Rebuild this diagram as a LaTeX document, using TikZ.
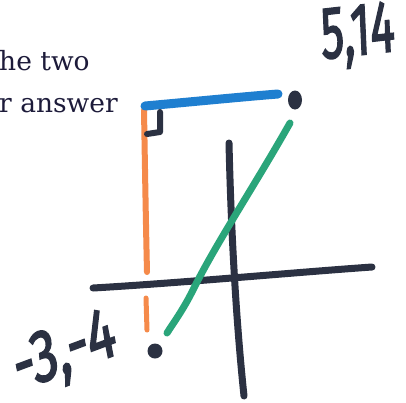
\documentclass[tikz,border=0pt]{standalone}
\usepackage{fontspec}
\setmainfont{DejaVu Serif}
\newfontfamily\hand[FakeBold=2.5]{Fira Sans}
\usetikzlibrary{shapes.geometric}
\definecolor{ink}{HTML}{2B3142}
\definecolor{txt}{HTML}{1D1B3A}
\definecolor{mblue}{HTML}{1F7FD0}
\definecolor{morange}{HTML}{F58A4A}
\definecolor{mgreen}{HTML}{2AA57A}
\tikzset{
  marker/.style={line cap=round, line join=round},
  axisline/.style={marker, draw=ink, line width=7pt},
  dotmark/.style={fill=ink, draw=none, ellipse, inner sep=0pt},
  handlabel/.style={text=ink, font=\hand\fontsize{74}{74}\selectfont, inner sep=0pt},
  prose/.style={text=txt, font=\fontsize{26.5}{26.5}\selectfont, inner sep=0pt, anchor=base west}
}
\begin{document}
\begin{tikzpicture}[x=1pt,y=-1pt]
\useasboundingbox (0,0) rectangle (406,402);
\fill[white] (0,0) rectangle (406,402);
% prose fragments
\node[prose] (t1) at (-1,70) {he two};
\node[prose] (t2) at (-1,112) {r answer};
% handwritten labels
\node[handlabel, xscale=0.62, rotate=4] (p1) at (358,36) {5,14};
\node[handlabel, xscale=0.72, rotate=15] (p2) at (65,354) {-3,-4};
% dots
\node[dotmark, minimum width=14pt, minimum height=19pt] (d1) at (295,100) {};
\node[dotmark, minimum width=15pt, minimum height=15pt] (d2) at (155,351) {};
% coordinates
\coordinate (bA) at (145,106);
\coordinate (bB) at (278,94);
\coordinate (oA) at (144,110);
\coordinate (oB) at (147,272);
\coordinate (oC) at (146,298);
\coordinate (oD) at (147,330);
\coordinate (gA) at (290,123);
\coordinate (gB) at (167,333);
\coordinate (vA) at (229,143);
\coordinate (vB) at (244,396);
\coordinate (hA) at (93,288);
\coordinate (hB) at (372,267);
\coordinate (rA) at (160,112);
\coordinate (rB) at (160,132);
\coordinate (rC) at (147,134);
% axes
\draw[axisline] (hA) .. controls (180,283) and (300,272) .. (hB);
\draw[axisline] (vA) .. controls (231,230) and (236,320) .. (vB);
% orange
\draw[marker, draw=morange, line width=6pt] (oA) .. controls (145,170) and (146,230) .. (oB);
\draw[marker, draw=morange, line width=5pt] (oC) -- (oD);
% green
\draw[marker, draw=mgreen, line width=7pt] (gA) .. controls (255,185) and (215,245) .. (193,290) .. controls (183,310) and (174,322) .. (gB);
% blue
\draw[marker, draw=mblue, line width=9pt] (bA) .. controls (190,102) and (240,97) .. (bB);
% right angle mark
\draw[marker, draw=ink, line width=6pt] (rA) -- (rB) -- (rC);
\end{tikzpicture}
\end{document}
